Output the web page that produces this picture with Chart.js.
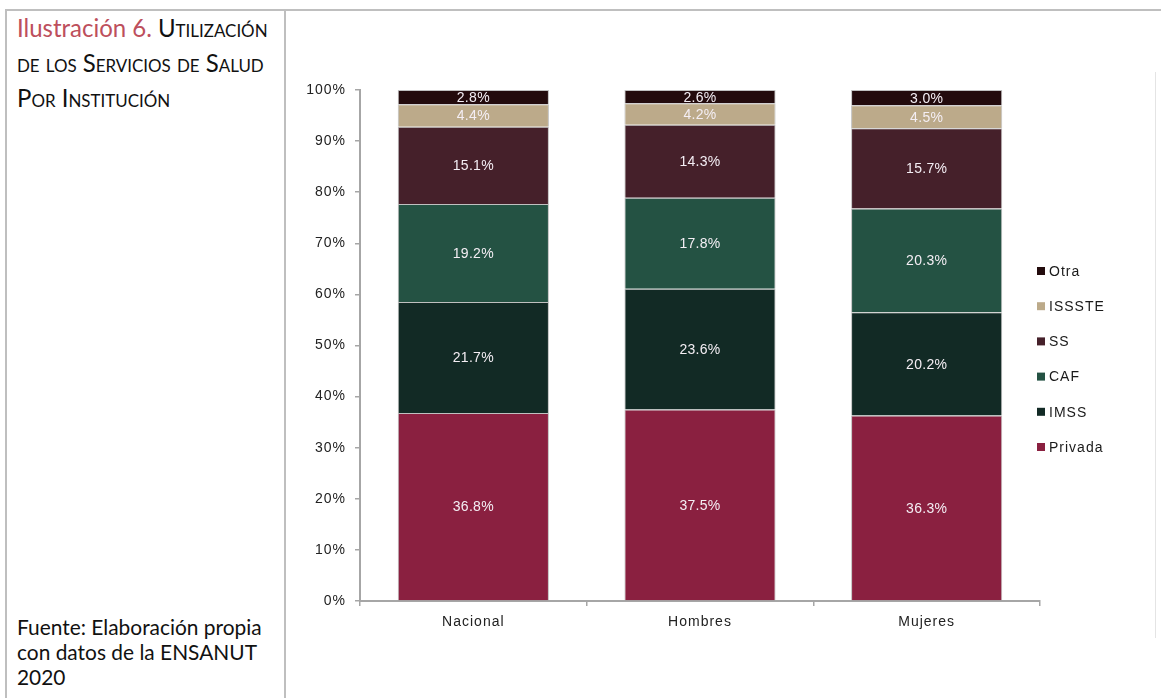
<!DOCTYPE html>
<html lang="es">
<head>
<meta charset="utf-8">
<title>Utilización de los servicios de salud por institución</title>
<script src="https://cdn.jsdelivr.net/npm/chart.js@4.4.1/dist/chart.umd.min.js"></script>
<style>
  html, body { margin: 0; padding: 0; background: #fff; }
  body { width: 1161px; height: 698px; position: relative; overflow: hidden; }
  .rule { position: absolute; background: #bfbfbf; }
  #topRule { left: 5px; top: 9px; width: 1156px; height: 2px; }
  #leftRule { left: 5px; top: 9px; width: 2px; height: 689px; }
  #midRule { left: 284px; top: 9px; width: 2px; height: 689px; }
  #imgEdge { left: 1155px; top: 72px; width: 1px; height: 566px; background: #e4e4e4; }
  .caption {
    position: absolute; left: 17px; margin: 0;
    font-family: Lato, "Open Sans", sans-serif; color: #000;
    white-space: nowrap; transform-origin: 0 0;
  }
  #title { top: 10px; font-size: 25.5px; line-height: 35px; font-variant: small-caps; transform: scaleX(0.94); color: #111; }
  #title .num { color: #bd4f5c; font-variant: normal; }
  #source { top: 614px; font-size: 22px; line-height: 25px; transform: scaleX(0.95); color: #111; }
  #chartBox { position: absolute; left: 290px; top: 70px; }
</style>
</head>
<body>
<div class="rule" id="topRule"></div>
<div class="rule" id="leftRule"></div>
<div class="rule" id="midRule"></div>
<div class="rule" id="imgEdge"></div>

<p class="caption" id="title"><span class="num">Ilustración 6.</span> Utilización<br>de los Servicios de Salud<br>Por Institución</p>
<p class="caption" id="source">Fuente: Elaboración propia<br>con datos de la ENSANUT<br>2020</p>

<div id="chartBox"><canvas id="usoChart" width="870" height="600"></canvas></div>

<script>
// categories and shares (%) per institution, bottom to top of each stack
const categories = ['Nacional', 'Hombres', 'Mujeres'];
const institutions = ['Privada', 'IMSS', 'CAF', 'SS', 'ISSSTE', 'Otra'];
const privada = [36.8, 37.5, 36.3];
const imss = [21.7, 23.6, 20.2];
const caf = [19.2, 17.8, 20.3];
const ss = [15.1, 14.3, 15.7];
const issste = [4.4, 4.2, 4.5];
const otra = [2.8, 2.6, 3.0];
const yTicks = [0, 10, 20, 30, 40, 50, 60, 70, 80, 90, 100];

const colors = ['#8a2040', '#122a25', '#245243', '#45202a', '#bcaa8a', '#230b0d'];
const values = [privada, imss, caf, ss, issste, otra];

const FONT = '"Liberation Sans", Arial, sans-serif';
const AXIS_GRAY = '#a6a6a6';

// the old chart export has loosely tracked lettering
const tracking = {
  id: 'tracking',
  beforeLayout(chart) { chart.ctx.letterSpacing = '1px'; },
  beforeDraw(chart) { chart.ctx.letterSpacing = '1px'; }
};

// percentage written in the middle of every segment
const segmentLabels = {
  id: 'segmentLabels',
  afterDatasetsDraw(chart) {
    const ctx = chart.ctx;
    ctx.save();
    ctx.letterSpacing = '0.3px';
    ctx.font = '14px ' + FONT;
    ctx.fillStyle = '#f4eef4';
    ctx.textAlign = 'center';
    ctx.textBaseline = 'middle';
    chart.data.datasets.forEach((ds, i) => {
      chart.getDatasetMeta(i).data.forEach((bar, j) => {
        const p = bar.getProps(['x', 'y', 'base'], true);
        ctx.fillText(ds.data[j].toFixed(1) + '%', p.x, (p.y + p.base) / 2 + 1);
      });
    });
    ctx.restore();
  }
};

// legend to the right, top entry = top of the stack
const sideLegend = {
  id: 'sideLegend',
  afterDraw(chart) {
    const ctx = chart.ctx;
    const area = chart.chartArea;
    const items = chart.data.datasets.slice().reverse();
    ctx.save();
    ctx.letterSpacing = '1px';
    ctx.font = '14px ' + FONT;
    ctx.textAlign = 'left';
    ctx.textBaseline = 'middle';
    items.forEach((ds, k) => {
      const cy = area.top + 181 + k * 35.2;
      ctx.fillStyle = ds.backgroundColor;
      ctx.fillRect(area.right - 3, cy - 4, 8, 8);
      ctx.fillStyle = '#1a1a1a';
      ctx.fillText(ds.label, area.right + 9, cy + 1);
    });
    ctx.restore();
  }
};

const usoChart = new Chart(document.getElementById('usoChart'), {
  type: 'bar',
  data: {
    labels: categories,
    datasets: institutions.map((name, i) => ({
      label: name,
      data: values[i],
      backgroundColor: colors[i],
      borderColor: 'rgba(140,140,140,0.55)',
      borderWidth: 1,
      barPercentage: 0.667,
      categoryPercentage: 1
    }))
  },
  options: {
    responsive: false,
    animation: false,
    layout: { padding: { left: 0, top: 20, right: 120, bottom: 29 } },
    plugins: {
      legend: { display: false },
      tooltip: { enabled: false }
    },
    scales: {
      x: {
        stacked: true,
        afterFit: s => { s.height = 40; },
        border: { color: AXIS_GRAY, width: 2 },
        grid: { offset: true, drawOnChartArea: false, tickLength: 5, color: AXIS_GRAY, lineWidth: 1.5 },
        ticks: { padding: 8, color: '#222', font: { family: FONT, size: 14 } }
      },
      y: {
        stacked: true,
        min: 0,
        max: 100,
        afterFit: s => { s.width = 70; },
        afterBuildTicks: s => { s.ticks = yTicks.map(v => ({ value: v })); },
        border: { color: AXIS_GRAY, width: 2 },
        grid: { drawOnChartArea: false, tickLength: 5, color: AXIS_GRAY, lineWidth: 1.5 },
        ticks: {
          padding: 9,
          color: '#222',
          font: { family: FONT, size: 14 },
          callback: v => v + '%'
        }
      }
    }
  },
  plugins: [tracking, segmentLabels, sideLegend]
});
</script>
</body>
</html>
